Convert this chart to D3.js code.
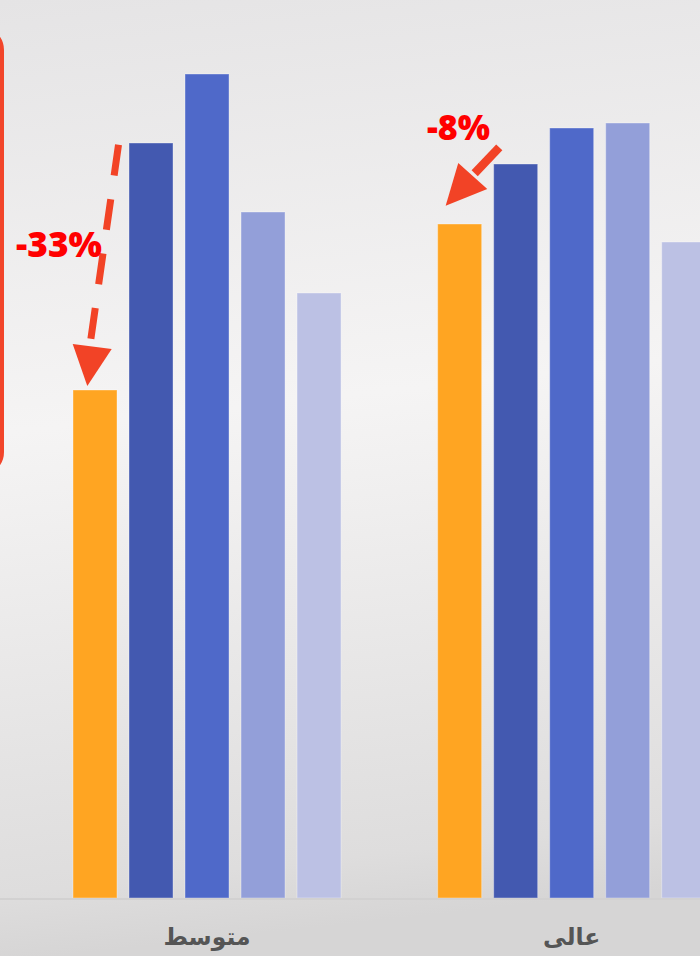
<!DOCTYPE html>
<html>
<head>
<meta charset="utf-8">
<script src="https://cdn.jsdelivr.net/npm/d3@7"></script>
<style>
  html, body { margin: 0; padding: 0; background: #eeeded; }
  svg { display: block; }
</style>
</head>
<body>
<svg id="chart" width="700" height="956"></svg>
<script>
// ---- data ----
const categories = ["متوسط", "عالی"];
const series = ["s1", "s2", "s3", "s4", "s5"];
const values = [
  [50.8, 75.5, 82.4, 68.6, 60.5],   // متوسط
  [67.4, 73.4, 77.0, 77.5, 65.6]    // عالی
];
const seriesColors = ["#FFA522", "#4359B0", "#4F69C9", "#939FD9", "#BCC1E4"];
const annotations = [
  { group: 0, label: "-33%" },
  { group: 1, label: "-8%" }
];

const W = 700, H = 956;
const svg = d3.select("#chart");

// background gradient
const defs = svg.append("defs");
const bg = defs.append("linearGradient").attr("id", "bg")
  .attr("x1", "0").attr("y1", "0").attr("x2", "0.08").attr("y2", "1");
[[0, "#e5e4e5"], [0.45, "#f5f4f4"], [0.93, "#dedddd"], [1, "#d6d5d5"]]
  .forEach(([o, c]) => bg.append("stop").attr("offset", o).attr("stop-color", c));
svg.append("rect").attr("width", W).attr("height", H).attr("fill", "url(#bg)");

// scales
const baseY = 898;
const y = d3.scaleLinear().domain([0, 100]).range([baseY, baseY - 1000]);
const x0 = d3.scaleBand().domain(categories)
  .range([73, 705.7]).paddingInner(0.265).paddingOuter(0).align(0);
const x1 = d3.scaleBand().domain(series)
  .range([0, x0.bandwidth()]).paddingInner(0.2143).paddingOuter(0);

// red rounded frame at left (partially visible)
svg.append("rect")
  .attr("x", -200).attr("y", 28).attr("width", 202).attr("height", 446)
  .attr("rx", 22).attr("fill", "none")
  .attr("stroke", "#f2452a").attr("stroke-width", 4);

// bars
const groups = svg.append("g").selectAll("g").data(categories).join("g")
  .attr("transform", d => `translate(${x0(d)},0)`);
groups.selectAll("rect")
  .data((d, i) => values[i].map((v, j) => ({ s: series[j], v, c: seriesColors[j] })))
  .join("rect")
  .attr("x", d => x1(d.s))
  .attr("y", d => y(d.v))
  .attr("width", x1.bandwidth())
  .attr("height", d => baseY - y(d.v))
  .attr("fill", d => d.c)
  .attr("stroke", "rgba(255,255,255,0.35)")
  .attr("stroke-width", 1);

// baseline
svg.append("line").attr("x1", 0).attr("x2", W)
  .attr("y1", baseY + 1).attr("y2", baseY + 1)
  .attr("stroke", "#d2d1d1").attr("stroke-width", 2);

// category labels
svg.append("g").selectAll("text").data(categories).join("text")
  .attr("x", d => x0(d) + x0.bandwidth() / 2)
  .attr("y", 945)
  .attr("text-anchor", "middle")
  .attr("font-family", "'DejaVu Sans', sans-serif")
  .attr("font-weight", "bold")
  .attr("font-size", 23.5)
  .attr("fill", "#555555")
  .text(d => d);

// annotations
const arrowColor = "#f24326";
const ann = svg.append("g");
// group 0: dashed arrow from top of second bar down to first bar
{
  const g = categories[0];
  const bx = x0(g) + x1(series[0]);
  const top0 = y(values[0][0]);
  const top1 = y(values[0][1]);
  const tip = [bx + 14.3, top0 - 4];
  ann.append("line")
    .attr("x1", x0(g) + x1(series[1]) - 10.5).attr("y1", top1 + 1.7)
    .attr("x2", tip[0] + 2.7).attr("y2", tip[1] - 41)
    .attr("stroke", arrowColor).attr("stroke-width", 7)
    .attr("stroke-dasharray", "31 24");
  ann.append("path")
    .attr("d", `M${tip[0] - 14.6},${tip[1] - 42} L${tip[0] + 24.4},${tip[1] - 37} L${tip[0]},${tip[1]} Z`)
    .attr("fill", arrowColor);
  ann.append("text")
    .attr("x", 16).attr("y", 257)
    .attr("font-family", "'Open Sans', sans-serif").attr("font-weight", 800)
    .attr("font-size", 36).attr("fill", "#ff0000")
    .attr("textLength", 86).attr("lengthAdjust", "spacingAndGlyphs")
    .text(annotations[0].label);
}
// group 1: short solid arrow pointing down-left to first bar
{
  const g = categories[1];
  const bx = x0(g) + x1(series[0]);
  const top0 = y(values[1][0]);
  const tip = [bx + 8, top0 - 18.3];
  ann.append("line")
    .attr("x1", tip[0] + 53.6).attr("y1", tip[1] - 58.3)
    .attr("x2", tip[0] + 29).attr("y2", tip[1] - 32.5)
    .attr("stroke", arrowColor).attr("stroke-width", 8.5);
  ann.append("path")
    .attr("d", `M${tip[0] + 12.6},${tip[1] - 42.7} L${tip[0] + 41.6},${tip[1] - 16.7} L${tip[0]},${tip[1]} Z`)
    .attr("fill", arrowColor);
  ann.append("text")
    .attr("x", 427).attr("y", 140)
    .attr("font-family", "'Open Sans', sans-serif").attr("font-weight", 800)
    .attr("font-size", 36).attr("fill", "#ff0000")
    .attr("textLength", 63).attr("lengthAdjust", "spacingAndGlyphs")
    .text(annotations[1].label);
}
</script>
</body>
</html>
